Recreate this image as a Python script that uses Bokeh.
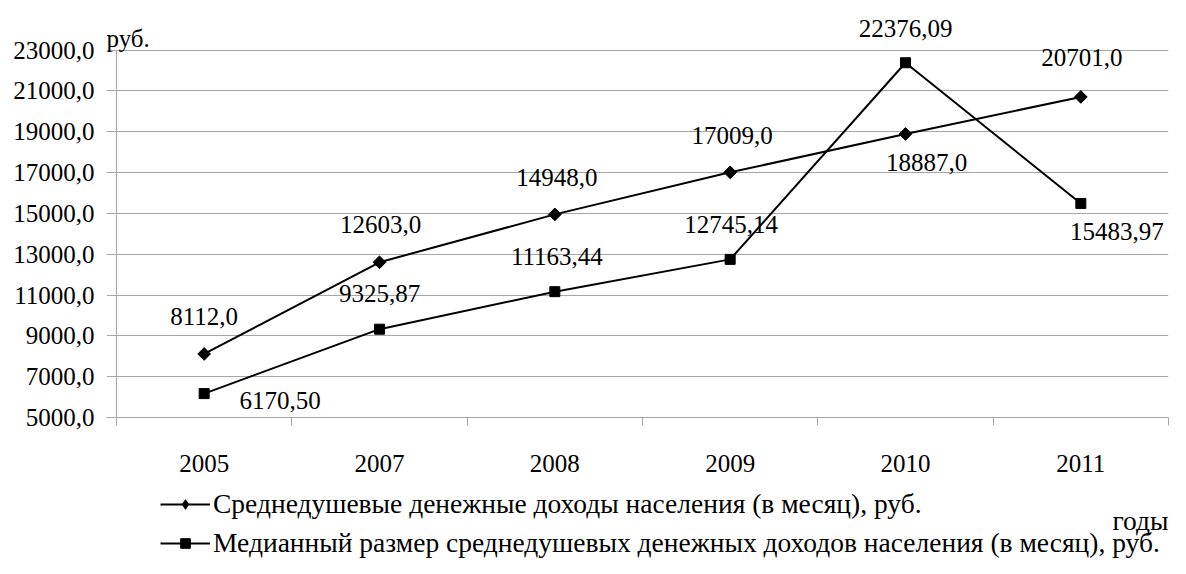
from math import pi
from bokeh.plotting import figure
from bokeh.layouts import column
from bokeh.models import (Range1d, FixedTicker, CustomJSTickFormatter, ColumnDataSource,
                          LabelSet, Label, Legend, LegendItem)
from bokeh.embed import file_html
from bokeh.resources import INLINE

years = ["2005", "2007", "2008", "2009", "2010", "2011"]
income = [8112.0, 12603.0, 14948.0, 17009.0, 18887.0, 20701.0]
median = [6170.50, 9325.87, 11163.44, 12745.14, 22376.09, 15483.97]
income_labels = ["8112,0", "12603,0", "14948,0", "17009,0", "18887,0", "20701,0"]
median_labels = ["6170,50", "9325,87", "11163,44", "12745,14", "22376,09", "15483,97"]
y_ticks = [5000, 7000, 9000, 11000, 13000, 15000, 17000, 19000, 21000, 23000]
series_names = ["Среднедушевые денежные доходы населения (в месяц), руб.",
                "Медианный размер среднедушевых денежных доходов населения (в месяц), руб."]

# label placement (screen px, positive = up)
income_dx = [0, 1, 2, 2, 21, 1]
income_dy = [37, 38, 37, 37, -29, 39]
median_dx = [76, 0, 2, 1, 0, 36]
median_dy = [-7, 36, 35, 35, 34, -28]

FONT = "Liberation Serif"
FS = "25px"
FS_LEG = "27.5px"
GREY = "#a6a6a6"

# layout (pixels)
W = 1170
H1 = 486
H2 = 72
FRAME_LEFT = 106      # frame edge (grid lines start here)
AXIS_X = 116          # where the vertical value axis sits
FRAME_RIGHT = 1168
FRAME_TOP = 4
FRAME_BOTTOM = 417
Y23_PX = 49.5         # pixel row of the top tick

ncat = len(years)
px_per_cat = (FRAME_RIGHT - AXIS_X) / ncat
x_start = -(AXIS_X - FRAME_LEFT) / px_per_cat
px_per_unit = (FRAME_BOTTOM - Y23_PX) / (y_ticks[-1] - y_ticks[0])
y_end = y_ticks[0] + (FRAME_BOTTOM - FRAME_TOP) / px_per_unit

xs = [i + 0.5 for i in range(ncat)]

p = figure(width=W, height=H1, x_range=Range1d(x_start, ncat), y_range=Range1d(y_ticks[0], y_end),
           output_backend="svg", toolbar_location=None,
           min_border_left=FRAME_LEFT, min_border_right=W - FRAME_RIGHT,
           min_border_top=FRAME_TOP, min_border_bottom=H1 - FRAME_BOTTOM)
p.outline_line_color = None
p.background_fill_color = "white"
p.border_fill_color = "white"

# x axis
p.xaxis.ticker = FixedTicker(ticks=xs, minor_ticks=list(range(ncat + 1)))
p.xaxis.formatter = CustomJSTickFormatter(args=dict(labels=years),
                                          code="return labels[Math.floor(tick)];")
p.xaxis.major_tick_out = 0
p.xaxis.major_tick_in = 0
p.xaxis.minor_tick_out = 8
p.xaxis.minor_tick_in = 0
p.xaxis.minor_tick_line_color = GREY
p.xaxis.axis_line_color = GREY
p.xaxis.major_label_standoff = 29
p.xaxis.major_label_text_font = FONT
p.xaxis.major_label_text_font_size = FS
p.xaxis.major_label_text_color = "black"

# y axis (labels only; the line is drawn at the first category boundary)
p.yaxis.ticker = FixedTicker(ticks=y_ticks, minor_ticks=[])
p.yaxis.formatter = CustomJSTickFormatter(code="return tick.toFixed(1).replace('.', ',');")
p.yaxis.major_tick_out = 0
p.yaxis.major_tick_in = 0
p.yaxis.axis_line_color = None
p.yaxis.major_label_standoff = 12
p.yaxis.major_label_text_font = FONT
p.yaxis.major_label_text_font_size = FS
p.yaxis.major_label_text_color = "black"

p.xgrid.visible = False
p.ygrid.grid_line_color = GREY
p.ygrid.grid_line_width = 1

p.segment(x0=[0], y0=[y_ticks[0]], x1=[0], y1=[y_ticks[-1]], line_color=GREY, line_width=1)

src1 = ColumnDataSource(dict(x=xs, y=income, t=income_labels, dx=income_dx, dy=income_dy))
src2 = ColumnDataSource(dict(x=xs, y=median, t=median_labels, dx=median_dx, dy=median_dy))

p.line("x", "y", source=src1, line_color="black", line_width=2)
p.scatter("x", "y", source=src1, marker="square", size=9, angle=pi / 4,
          fill_color="black", line_color="black")
p.line("x", "y", source=src2, line_color="black", line_width=2)
p.scatter("x", "y", source=src2, marker="square", size=10,
          fill_color="black", line_color="black")

for src in (src1, src2):
    p.add_layout(LabelSet(x="x", y="y", text="t", source=src, x_offset="dx", y_offset="dy",
                          text_align="center", text_baseline="middle",
                          text_font=FONT, text_font_size=FS, text_color="black"))

p.add_layout(Label(x=0, y=FRAME_BOTTOM - 38, x_units="screen", y_units="screen", text="руб.",
                   text_font=FONT, text_font_size=FS, text_color="black",
                   text_baseline="alphabetic", text_align="left"))

# legend strip below the chart (its frame is aligned with the chart frame by the column layout)
p2 = figure(width=W, height=H2, x_range=Range1d(0, 1), y_range=Range1d(0, 1),
            output_backend="svg", toolbar_location=None,
            x_axis_location=None, y_axis_location=None,
            min_border_left=FRAME_LEFT, min_border_right=W - FRAME_RIGHT,
            min_border_top=0, min_border_bottom=0)
p2.outline_line_color = None
p2.grid.visible = False
p2.background_fill_alpha = 0

# legend proxies: the same series, lying far outside this strip's ranges
e1 = p2.line("x", "y", source=src1, line_color="black", line_width=2)
d1 = p2.scatter("x", "y", source=src1, marker="diamond", size=13,
                fill_color="black", line_color="black")
e2 = p2.line("x", "y", source=src2, line_color="black", line_width=2)
d2 = p2.scatter("x", "y", source=src2, marker="square", size=10,
                fill_color="black", line_color="black")

legend = Legend(items=[LegendItem(label=series_names[0], renderers=[e1, d1]),
                       LegendItem(label=series_names[1], renderers=[e2, d2])],
                location=(160 - FRAME_LEFT, -1), orientation="vertical",
                glyph_width=50, glyph_height=24, label_height=24, spacing=7,
                label_standoff=3, padding=0, margin=0,
                border_line_color=None, background_fill_alpha=0,
                label_text_font=FONT, label_text_font_size=FS_LEG, label_text_color="black")
p2.add_layout(legend)

p2.add_layout(Label(x=FRAME_RIGHT - FRAME_LEFT, y=H2 - (520 - H1), x_units="screen", y_units="screen",
                    text="годы", text_font=FONT, text_font_size=FS_LEG, text_color="black",
                    text_baseline="alphabetic", text_align="right"))

open("out.html", "w").write(file_html(column(p, p2), INLINE))
